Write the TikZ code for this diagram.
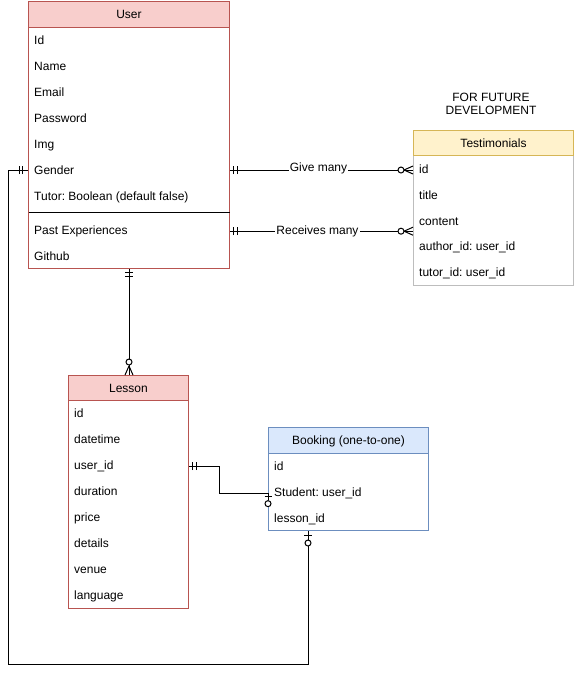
\documentclass[tikz,border=0pt]{standalone}
\usepackage{fontspec}
\setmainfont{Liberation Sans}
\usetikzlibrary{decorations.markings,calc}
\frenchspacing

\definecolor{redfill}{HTML}{F8CECC}
\definecolor{redline}{HTML}{B85450}
\definecolor{bluefill}{HTML}{DAE8FC}
\definecolor{blueline}{HTML}{6C8EBF}
\definecolor{yelfill}{HTML}{FFF2CC}
\definecolor{yelline}{HTML}{D6B656}
\definecolor{greyline}{HTML}{BDBDBD}

\tikzset{
  entity/.style={draw=#1, line width=1pt, fill=white, inner sep=0pt, anchor=north west},
  headbox/.style={draw=#1, line width=1pt, inner sep=0pt, anchor=north west,
    text height=8.6pt, text depth=0pt},
  row/.style={anchor=base west, inner sep=0pt, yshift=-4.3pt},
  conn/.style={draw=black, line width=1pt},
  lbl/.style={fill=white, inner sep=1pt, text height=8.6pt, text depth=2pt},
  marker/.style={draw=black, line width=1pt, solid},
  % one and only one, at the start of a path
  startone/.style={postaction={decorate,decoration={markings,
    mark=at position 3.5pt with {\draw[marker] (0pt,-4pt) -- (0pt,4pt);},
    mark=at position 7.5pt with {\draw[marker] (0pt,-4pt) -- (0pt,4pt);}}}},
  % one and only one, at the end of a path
  endone/.style={postaction={decorate,decoration={markings,
    mark=at position -5.5pt with {\draw[marker] (0pt,-4pt) -- (0pt,4pt);},
    mark=at position -8.5pt with {\draw[marker] (0pt,-4pt) -- (0pt,4pt);}}}},
  % zero or many, at the end of a path
  endmany/.style={postaction={decorate,decoration={markings,
    mark=at position -9pt with {\draw[marker] (0pt,0pt) -- (9pt,4pt) (0pt,0pt) -- (9pt,-4pt);},
    mark=at position -12pt with {\draw[marker, fill=white] (0pt,0pt) circle[radius=3pt];}}}},
  % zero or one, at the start of a path
  startzeroone/.style={postaction={decorate,decoration={markings,
    mark=at position 4pt with {\draw[marker] (0pt,-4pt) -- (0pt,4pt);},
    mark=at position 12pt with {\draw[marker, fill=white] (0pt,0pt) circle[radius=3pt];}}}},
}

\begin{document}
\begin{tikzpicture}[x=1pt, y=-1pt, font=\fontsize{12pt}{14pt}\selectfont]
\useasboundingbox (0,0) rectangle (574,674);

% ---------- User ----------
\node[entity=redline, minimum width=201pt, minimum height=267pt] (user) at (28,1) {};
\node[headbox=redline, fill=redfill, minimum width=201pt, minimum height=26pt] (userhead) at (user.north west) {User};
\foreach \yy/\txt/\nm in {40/Id/u-id, 66/Name/u-name, 92/Email/u-email, 118/Password/u-password,
    144/Img/u-img, 170/Gender/u-gender, 196/Tutor: Boolean (default false)/u-tutor,
    230/Past Experiences/u-past, 256/Github/u-github}
  \node[row] (\nm) at (34,\yy) {\txt};
\coordinate (usep) at (0,212);
\draw[black, line width=1pt] ($(user.west |- usep)+(0.5,0)$) -- ($(user.east |- usep)+(-0.5,0)$);

% ---------- Testimonials ----------
\node[align=center, inner sep=0pt] (futurenote) at (491,104) {FOR FUTURE\\[-1.5pt]DEVELOPMENT};
\node[entity=greyline, minimum width=160pt, minimum height=155pt] (testi) at (413,130) {};
\node[headbox=yelline, fill=yelfill, minimum width=160pt, minimum height=25pt] (testihead) at (testi.north west) {Testimonials};
\foreach \yy/\txt/\nm in {169/id/t-id, 195/title/t-title, 221/content/t-content,
    246/author\_id: user\_id/t-author, 272/tutor\_id: user\_id/t-tutor}
  \node[row] (\nm) at (419,\yy) {\txt};

% ---------- Lesson ----------
\node[entity=redline, minimum width=120pt, minimum height=233pt] (lesson) at (68,375) {};
\node[headbox=redline, fill=redfill, minimum width=120pt, minimum height=25pt] (lessonhead) at (lesson.north west) {Lesson};
\foreach \yy/\txt/\nm in {413/id/l-id, 439/datetime/l-datetime, 465/user\_id/l-userid,
    491/duration/l-duration, 517/price/l-price, 543/details/l-details,
    569/venue/l-venue, 595/language/l-language}
  \node[row] (\nm) at (74,\yy) {\txt};

% ---------- Booking ----------
\node[entity=blueline, minimum width=160pt, minimum height=103pt] (booking) at (268,427) {};
\node[headbox=blueline, fill=bluefill, minimum width=160pt, minimum height=26pt] (bookinghead) at (booking.north west) {Booking (one-to-one)};
\foreach \yy/\txt/\nm in {466/id/b-id, 492/Student: user\_id/b-student, 518/lesson\_id/b-lesson}
  \node[row] (\nm) at (274,\yy) {\txt};

% ---------- Relationships ----------
\draw[conn, startone, endmany] (user.east |- u-gender) -- node[lbl, xshift=-3pt, yshift=2pt] {Give many} (testi.west |- u-gender);
\draw[conn, startone, endmany] (user.east |- u-past) -- node[lbl, xshift=-4pt] {Receives many} (testi.west |- u-past);

\draw[conn, startone] (user.south) -- (user.south |- lesson.north);
\draw[marker, fill=white] ($(user.south |- lesson.north)+(0,-13)$) circle[radius=3pt];
\draw[marker] ($(user.south |- lesson.north)+(0,-9)$) -- ($(user.south |- lesson.north)+(-4,0)$)
              ($(user.south |- lesson.north)+(0,-9)$) -- ($(user.south |- lesson.north)+(4,0)$);

\coordinate (bkin) at (booking.west |- b-student);
\draw[conn, startone] (lesson.east |- l-userid) -- ++(30,0) |- (bkin);
\draw[marker] (bkin) -- ++(0,7);
\draw[marker] ($(bkin)+(-3.5,3.5)$) -- ($(bkin)+(3.5,3.5)$);
\draw[marker, fill=white] ($(bkin)+(0,10.5)$) circle[radius=3pt];

\coordinate (bkout) at ($(booking.south west)+(40,0)$);
\coordinate (loopcorner) at (8,664);
\draw[conn, startzeroone, endone] (bkout) |- (loopcorner) |- (user.west |- u-gender);
\end{tikzpicture}
\end{document}
